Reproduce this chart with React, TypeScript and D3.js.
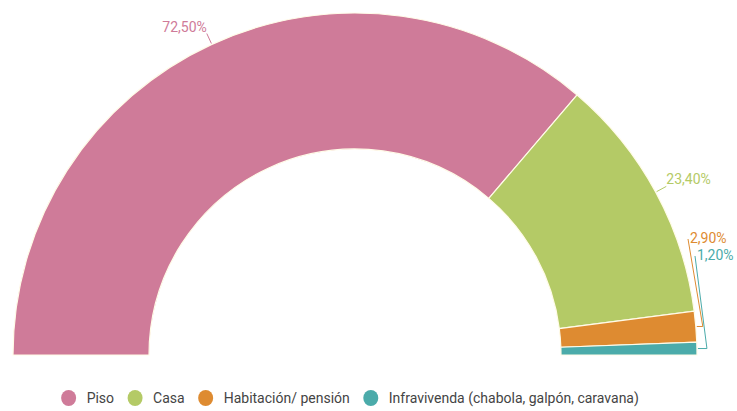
import React, { useEffect, useRef } from "react";
import * as d3 from "d3";

const categories = ["Piso", "Casa", "Habitación/ pensión", "Infravivenda (chabola, galpón, caravana)"];
const values = [72.5, 23.4, 2.9, 1.2];
const labels = ["72,50%", "23,40%", "2,90%", "1,20%"];
const colors = ["#cf7b99", "#b4ca66", "#de8b31", "#4babaa"];

const W = 737;
const H = 411;

export default function App() {
  const ref = useRef<SVGSVGElement>(null);
  useEffect(() => {
    const svg = d3.select(ref.current);
    svg.selectAll("*").remove();
    const cx = 355, cy = 355, R = 342, r = 206;
    const g = svg.append("g").attr("transform", `translate(${cx},${cy})`);
    const pie = d3.pie<number>().sort(null).startAngle(-Math.PI / 2).endAngle(Math.PI / 2);
    const arcs = pie(values);
    const arc = d3.arc<d3.PieArcDatum<number>>().innerRadius(r).outerRadius(R);
    g.selectAll("path.slice")
      .data(arcs)
      .enter()
      .append("path")
      .attr("d", arc as any)
      .attr("fill", (_d, i) => colors[i])
      .attr("stroke", "#fffbe8")
      .attr("stroke-width", 1.2);

    const font = "Roboto, 'Noto Sans', sans-serif";
    const pt = (a: number, rad: number) => [Math.sin(a) * rad, -Math.cos(a) * rad];

    arcs.forEach((d, i) => {
      const mid = (d.startAngle + d.endAngle) / 2;
      const [x0, y0] = pt(mid, R + 1);
      if (i < 2) {
        const [x1, y1] = pt(mid, R + 12);
        g.append("line").attr("x1", x0).attr("y1", y0).attr("x2", x1).attr("y2", y1)
          .attr("stroke", colors[i]).attr("stroke-width", 1);
        const right = x1 > 0;
        g.append("text")
          .attr("x", x1)
          .attr("y", y1 - 2)
          .attr("text-anchor", right ? "start" : "end")
          .attr("font-family", font)
          .attr("font-size", 14)
          .attr("fill", colors[i])
          .text(labels[i]);
      } else {
        const k = i - 2;
        const lx = x0 + 6 + k * 3;
        const ty = -112 + k * 17;
        const tx = 335 + k * 7;
        g.append("polyline")
          .attr("points", `${x0},${y0} ${lx},${y0} ${tx - 2},${ty - 4}`)
          .attr("fill", "none")
          .attr("stroke", colors[i]).attr("stroke-width", 1);
        g.append("text")
          .attr("x", tx)
          .attr("y", ty)
          .attr("font-family", font)
          .attr("font-size", 14)
          .attr("fill", colors[i])
          .text(labels[i]);
      }
    });

    // legend
    const lg = svg.append("g");
    let x = 0;
    categories.forEach((c, i) => {
      const ig = lg.append("g").attr("transform", `translate(${x},0)`);
      ig.append("ellipse").attr("cx", 0).attr("cy", 0).attr("rx", 7.5).attr("ry", 8).attr("fill", colors[i]);
      const t = ig.append("text").attr("x", 18).attr("y", 5)
        .attr("font-family", font).attr("font-size", 14).attr("fill", "#444").text(c);
      const tw = (t.node() as SVGTextElement).getComputedTextLength();
      x += 18 + tw + 21;
    });
    const total = x - 21 + 7.5;
    const left = 350 - total / 2;
    lg.attr("transform", `translate(${left + 7.5},398)`);
  }, []);
  return (
    <svg ref={ref} width={W} height={H} style={{ position: "absolute", left: 0, top: 0, background: "#fff" }} />
  );
}
